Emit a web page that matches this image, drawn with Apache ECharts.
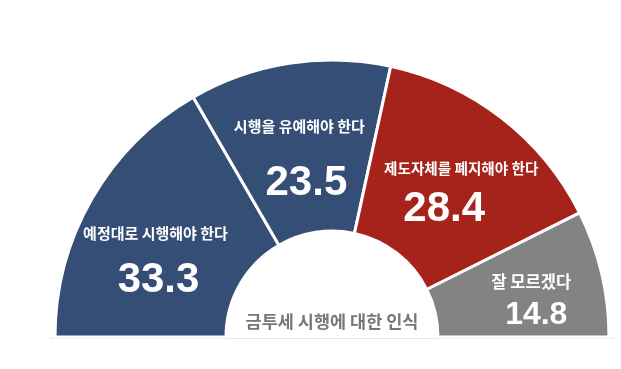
<!DOCTYPE html>
<html>
<head>
<meta charset="utf-8">
<script src="https://cdn.jsdelivr.net/npm/echarts@6/dist/echarts.min.js"></script>
<style>
html,body{margin:0;padding:0;background:#fff;}
#chart{width:621px;height:369px;}
</style>
</head>
<body>
<div id="chart"></div>
<script>
const categories = ['예정대로 시행해야 한다', '시행을 유예해야 한다', '제도자체를 폐지해야 한다', '잘 모르겠다'];
const values = [33.3, 23.5, 28.4, 14.8];
const sliceColors = ['#354e76', '#354e76', '#a6231c', '#838383'];
const centerTitle = '금투세 시행에 대한 인식';

// label layout tweaks: [dx, dy, titleLineHeight, valueLineHeight, valueFontSize, valueShift, titleFontSize]
const labelLayouts = [
  [-8, 16, 50, 46, 42, 3, 15],
  [-2.5, 4, 70, 46, 42, 7, 15],
  [10, 8.5, 36, 46, 42, -17, 14.6],
  [10, 8, 30, 36, 32, 5, 16.5]
];

const CX = 332, CY = 337;
const chart = echarts.init(document.getElementById('chart'), null, {renderer: 'canvas'});

const data = values.map((v, i) => {
  const [dx, dy, lhT, lhV, fsV, shift, fsT] = labelLayouts[i];
  return {
    name: categories[i],
    value: v,
    itemStyle: {color: sliceColors[i]},
    label: {
      offset: [dx, dy],
      rich: {
        t: {fontFamily: "'Noto Sans CJK KR', sans-serif", fontWeight: 'bold', fontSize: fsT, color: '#ffffff', lineHeight: lhT, align: 'center'},
        v: {fontFamily: "'Liberation Sans', sans-serif", fontWeight: 'bold', fontSize: fsV, color: '#ffffff', lineHeight: lhV,
            padding: shift >= 0 ? [0, 0, 0, shift * 2] : [0, -shift * 2, 0, 0], align: 'center'}
      }
    }
  };
});

chart.setOption({
  animation: false,
  series: [{
    type: 'pie',
    center: [CX, CY],
    radius: [106, 277],
    startAngle: 180,
    endAngle: 0,
    clockwise: true,
    avoidLabelOverlap: false,
    itemStyle: {borderColor: '#ffffff', borderWidth: 3},
    label: {
      show: true,
      position: 'inside',
      formatter: p => '{t|' + p.name + '}\n{v|' + p.value.toFixed(1) + '}'
    },
    labelLine: {show: false},
    emphasis: {disabled: true},
    data: data
  }],
  graphic: [
    {type: 'line', shape: {x1: 50, y1: 338.5, x2: 614, y2: 338.5}, style: {stroke: '#e6e6e6', lineWidth: 1}, z: -1},
    {type: 'text', x: CX, y: 321, style: {text: centerTitle, fontFamily: "'Noto Sans CJK KR', sans-serif", fontWeight: 'bold', fontSize: 17.5, fill: '#777777', align: 'center', verticalAlign: 'middle'}}
  ]
});
</script>
</body>
</html>
